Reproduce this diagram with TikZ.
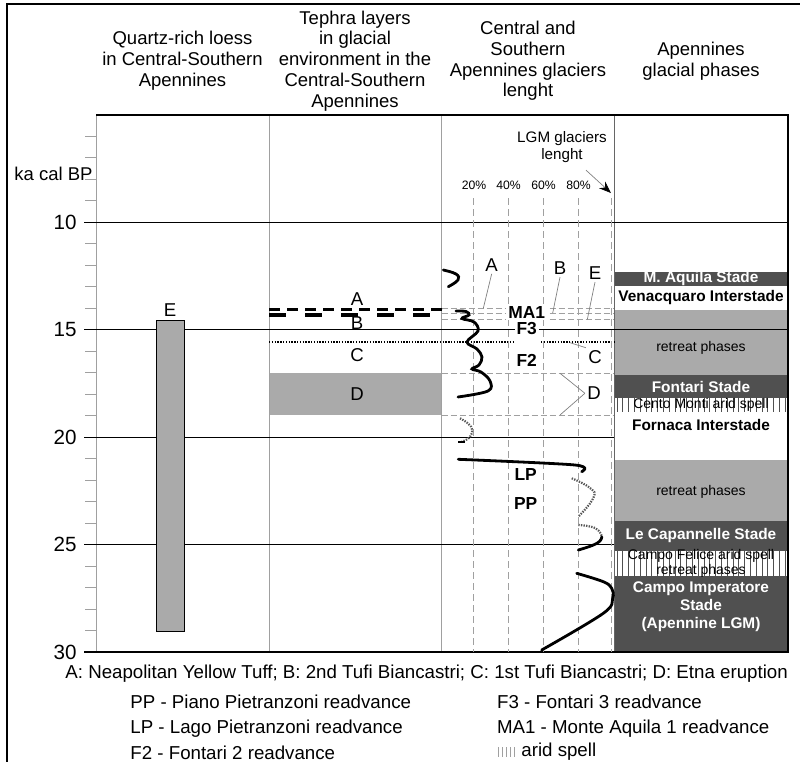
\documentclass[tikz,border=0pt]{standalone}
\usepackage{fontspec}
\setmainfont{Liberation Sans}
\usetikzlibrary{arrows.meta}
\definecolor{phasedark}{HTML}{505050}
\definecolor{phaselight}{HTML}{AAAAAA}
\definecolor{gridgray}{HTML}{A0A0A0}
\tikzset{header/.style = {align=center, font=\fontsize{9.25}{10.4}\selectfont},
         lbl/.style = {font=\fontsize{9.3}{11}\selectfont, inner sep=1pt},
         ticklbl/.style = {font=\fontsize{10.3}{12}\selectfont, anchor=east, inner sep=1pt},
         pct/.style = {font=\fontsize{6.1}{7}\selectfont, inner sep=0pt},
         readv/.style = {font=\bfseries\fontsize{8.7}{10}\selectfont, inner sep=1pt},
         stade/.style = {align=center, text=white, font=\bfseries\fontsize{7.7}{9}\selectfont},
         inter/.style = {align=center, font=\bfseries\fontsize{7.7}{9}\selectfont},
         phasetxt/.style = {align=center, font=\fontsize{7}{5.2}\selectfont, inner sep=0pt},
         legend/.style = {anchor=west, inner sep=0pt, font=\fontsize{9.35}{10}\selectfont},
         divider/.style = {gridgray, line width=0.5pt},
         major/.style = {black, line width=0.6pt},
         minortick/.style = {gridgray, line width=0.5pt},
         pctline/.style = {gridgray, line width=0.4pt, dash pattern=on 3.5pt off 2pt},
         tephraline/.style = {gridgray, line width=0.4pt, dash pattern=on 3pt off 1.5pt},
         leader/.style = {gray, line width=0.35pt},
         glacier/.style = {line width=1.4pt, line cap=round},
         glacierdim/.style = {gray!70!black, line width=1.1pt, dash pattern=on 0.7pt off 0.6pt},
         hatch/.style = {phasedark, line width=0.4pt}}
\begin{document}
\begin{tikzpicture}[x=0.5pt, y=-0.5pt,
    declare function={ka(\t)=7.6+21.48*\t;}]
  \useasboundingbox (0,0) rectangle (800,762);
  \draw[line width=1pt] (7,762) -- (7,4) -- (800,4);

  % column headers
  \node[header] (hloess)   at (182.5,61) {Quartz-rich loess\\in Central-Southern\\Apennines};
  \node[header] (htephra)  at (355,61)   {Tephra layers\\in glacial\\environment in the\\Central-Southern\\Apennines};
  \node[header] (hglacier) at (528,61)   {Central and\\Southern\\Apennines glaciers\\lenght};
  \node[header] (hphases)  at (701,61)   {Apennines\\glacial phases};

  % glacial phases column
  \fill[phasedark]  (614,271.7) rectangle (788,285.7);
  \fill[phaselight] (614,310)   rectangle (788,375);
  \fill[phasedark]  (614,375)   rectangle (788,398.3);
  \fill[phaselight] (614,460)   rectangle (788,521);
  \fill[phasedark]  (614,521)   rectangle (788,551);
  \fill[phasedark]  (614,576)   rectangle (788,652);
  \foreach \x in {617,622.8,...,786} {
    \draw[hatch] (\x,398.3) -- (\x,411.7);
    \draw[hatch] (\x,551) -- (\x,576);
  }

  % tephra D
  \fill[phaselight] (269,373.3) rectangle (441.7,415);

  % axis and grid
  \foreach \t in {6,...,9,11,12,13,14,16,17,18,19,21,22,23,24,26,27,28,29}
    \draw[minortick] (85,{ka(\t)}) -- (96,{ka(\t)});
  \foreach \x in {96,269,441.7}
    \draw[divider] (\x,115) -- (\x,652);
  \draw[gray!80!black, line width=0.5pt] (614,115) -- (614,652);
  \foreach \t in {10,15}
    \draw[major] (84,{ka(\t)}) -- (788,{ka(\t)});
  \foreach \t in {20,25}
    \draw[major] (84,{ka(\t)}) -- (614,{ka(\t)});
  \draw[major] (96,115) -- (788,115) -- (788,652) -- (84,652);
  \foreach \t in {10,15,...,30}
    \node[ticklbl] (t\t) at (79,{ka(\t)}) {\t};
  \node[legend, anchor=east, font=\fontsize{9.25}{10}\selectfont] (unit) at (93,174) {ka cal BP};

  % quartz-rich loess
  \draw[fill=phaselight, line width=0.6pt] (156.3,320.7) rectangle (184.3,631.7);
  \node[lbl] (loessE) at (170,310) {E};

  % tephra layers
  \draw[line width=1.5pt, dash pattern=on 5.5pt off 3.5pt] (269,309) -- (441.7,309);
  \draw[line width=2pt, dash pattern=on 8.5pt off 9.5pt] (269,315.3) -- (441.7,315.3);
  \draw[line width=1.2pt, dash pattern=on 0.7pt off 0.7pt] (269,341.7) -- (513,341.7);
  \draw[line width=1.2pt, dash pattern=on 0.7pt off 0.7pt] (541,341.7) -- (614,341.7);
  \node[lbl] (tephA) at (357,299) {A};
  \node[lbl] (tephB) at (357,323) {B};
  \node[lbl] (tephC) at (357,355) {C};
  \node[lbl] (tephD) at (357,394) {D};

  % glaciers length
  \foreach \x in {473.3,508.3,543.3,578.3,611.7}
    \draw[pctline] (\x,198) -- (\x,652);
  \foreach \x/\p in {474/20,508.5/40,543.5/60,578.5/80}
    \node[pct] (p\p) at (\x,185) {\p\%};
  \node[align=center, font=\fontsize{7.6}{8.5}\selectfont] (lgm) at (562,147.5) {LGM glaciers\\lenght};
  \coordinate (lgmtip) at (611,193);
  \draw[leader, -{Stealth[black, length=6pt, width=4.5pt]}] ([xshift=12pt]lgm.south) -- (lgmtip);

  \draw[tephraline] (441.7,308.5) -- (614,308.5);
  \draw[tephraline] (441.7,313.5) -- (614,313.5);
  \draw[tephraline] (441.7,319.5) -- (614,319.5);
  \draw[tephraline] (441.7,373.3) -- (614,373.3);
  \draw[tephraline] (441.7,415) -- (614,415);

  \draw[glacier] plot[smooth, tension=0.7] coordinates {(443.3,270) (456,274) (458,280) (448.3,286.7)};
  \draw[glacier] (437,309) -- (441,309);
  \draw[glacier] plot[smooth, tension=0.6] coordinates {(456,311) (466,311.5) (469,315) (462,318.5)
    (474,322) (478,331) (467,342) (477,349) (482,357) (479,365) (472,369) (481,372) (490,381)
    (488,391) (458,397)};
  \draw[glacierdim] plot[smooth, tension=0.8] coordinates {(460,418.3) (471,426.7) (470,436.7) (461.7,441.7)};
  \draw[line width=1pt] (458,441.7) -- (465,441.7);
  \draw[glacier] plot[smooth, tension=0.5] coordinates {(458.3,459.3) (575,465) (581.7,471.7)};
  \draw[glacierdim] plot[smooth, tension=0.8] coordinates {(571.7,478.3) (590,488) (593.3,498) (578.3,516.7)};
  \draw[glacierdim] plot[smooth, tension=0.8] coordinates {(578.3,525) (595,528) (601.7,536)};
  \draw[glacier] plot[smooth, tension=0.8] coordinates {(601.7,536.7) (597,543.3) (578.3,550)};
  \draw[glacier] plot[smooth, tension=0.6] coordinates {(576.7,573.3) (603.3,581.7) (611.7,588.3)
    (612.7,598.3) (603.3,613.3) (541.7,650)};

  \node[readv, fill=white] (ma1) at (526.7,312.3) {MA1};
  \node[readv, fill=white] (f3) at (526.7,328.5) {F3};
  \node[readv] (f2) at (526.7,360) {F2};
  \node[readv] (lp) at (525.7,475) {LP};
  \node[readv] (pp) at (525.7,503.3) {PP};

  \node[lbl] (labA) at (491.7,265) {A};
  \node[lbl] (labB) at (560,268.3) {B};
  \node[lbl] (labE) at (595,273.3) {E};
  \node[lbl] (labC) at (595,356.7) {C};
  \node[lbl] (labD) at (594,393.3) {D};
  \coordinate (tA) at (483.3,308.3);
  \coordinate (tB) at (552.7,313);
  \coordinate (tE) at (587.3,319.5);
  \coordinate (tC) at (570,342.7);
  \coordinate (tD1) at (560,373.3);
  \coordinate (tD2) at (560,415);
  \draw[leader] (labA.south) -- (tA);
  \draw[leader] (labB.south) -- (tB);
  \draw[leader] (labE.south) -- (tE);
  \draw[leader] (labC.north west) -- (tC);
  \draw[leader] (labD.west) -- (tD1);
  \draw[leader] (labD.west) -- (tD2);

  % phase labels
  \node[stade] (aquila) at (701,278.7) {M. Aquila Stade};
  \node[inter] (venacq) at (701,297.8) {Venacquaro Interstade};
  \node[phasetxt] (retr1) at (701,348) {retreat phases};
  \node[stade] (fontari) at (701,386.7) {Fontari Stade};
  \node[phasetxt] (cento) at (701,405) {Cento Monti arid spell};
  \node[inter] (fornaca) at (701,425) {Fornaca Interstade};
  \node[phasetxt] (retr2) at (701,491.7) {retreat phases};
  \node[stade] (capann) at (701,536) {Le Capannelle Stade};
  \node[phasetxt] (felice) at (701,563) {Campo Felice arid spell\\retreat phases};
  \node[stade, font=\bfseries\fontsize{7.7}{9}\selectfont] (imper) at (701,607) {Campo Imperatore\\Stade\\(Apennine LGM)};

  % legend
  \node[legend] (legtephra) at (65,674) {A: Neapolitan Yellow Tuff; B: 2nd Tufi Biancastri; C: 1st Tufi Biancastri; D: Etna eruption};
  \node[legend] (legpp) at (130,701.7) {PP - Piano Pietranzoni readvance};
  \node[legend] (leglp) at (130,728.3) {LP - Lago Pietranzoni readvance};
  \node[legend] (legf2) at (130,753.3) {F2 - Fontari 2 readvance};
  \node[legend] (legf3) at (496.7,701.7) {F3 - Fontari 3 readvance};
  \node[legend] (legma1) at (496.7,728.3) {MA1 - Monte Aquila 1 readvance};
  \foreach \x in {498,502,...,514}
    \draw[gridgray, line width=0.5pt] (\x,747) -- (\x,757);
  \node[legend] (legarid) at (521,752) {arid spell};
\end{tikzpicture}
\end{document}
